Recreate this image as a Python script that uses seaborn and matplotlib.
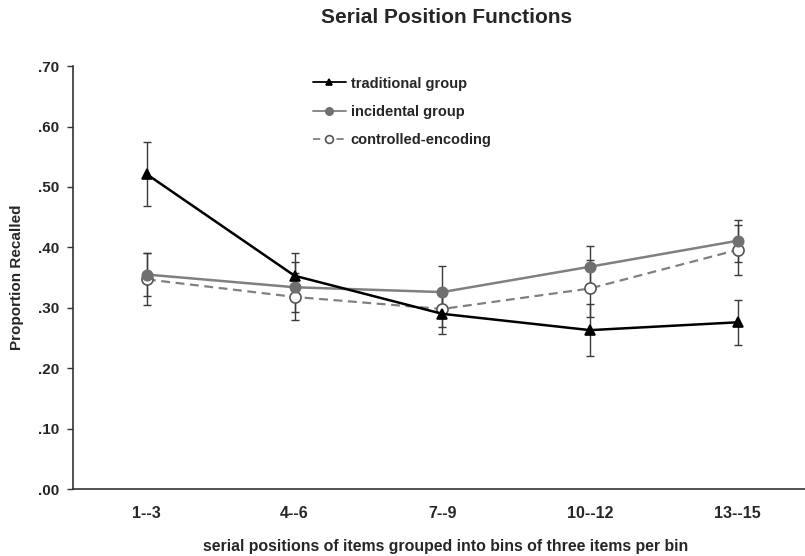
import matplotlib
matplotlib.use("Agg")
import matplotlib.pyplot as plt
import seaborn as sns
import pandas as pd

bins = ["1--3", "4--6", "7--9", "10--12", "13--15"]
traditional = [0.521, 0.353, 0.290, 0.263, 0.276]
traditional_err = [0.053, 0.037, 0.033, 0.043, 0.037]
incidental = [0.355, 0.334, 0.326, 0.368, 0.411]
incidental_err = [0.036, 0.041, 0.043, 0.035, 0.035]
controlled = [0.347, 0.318, 0.298, 0.332, 0.396]
controlled_err = [0.043, 0.039, 0.030, 0.047, 0.041]
y_ticks = [0.0, 0.1, 0.2, 0.3, 0.4, 0.5, 0.6, 0.7]
y_tick_labels = [".00", ".10", ".20", ".30", ".40", ".50", ".60", ".70"]

sns.set_style("white")
plt.rcParams["font.family"] = ["Liberation Sans", "DejaVu Sans"]
plt.rcParams["font.weight"] = "bold"

fig = plt.figure(figsize=(8.05, 5.56), dpi=100)
ax = fig.add_axes([0.0907, 0.1205, 0.912, 0.7605])

df = pd.DataFrame({
    "bin": bins * 3,
    "value": traditional + incidental + controlled,
    "err": traditional_err + incidental_err + controlled_err,
    "group": ["traditional group"] * 5 + ["incidental group"] * 5 + ["controlled-encoding"] * 5,
})

styles = {
    "traditional group": dict(color="black", marker="^", ls="-", mfc="black", mec="black", ms=7, lw=1.8),
    "incidental group": dict(color="#808080", marker="o", ls="-", mfc="#707070", mec="#707070", ms=7.5, lw=1.8),
    "controlled-encoding": dict(color="#808080", marker="o", ls=(0, (4, 2.5)), mfc="white", mec="#555555", ms=8, lw=1.6),
}

x_pos = list(range(len(bins)))
for name in ["incidental group", "controlled-encoding", "traditional group"]:
    sub = df[df["group"] == name]
    ax.errorbar(x_pos, sub["value"].values, yerr=sub["err"].values, fmt="none",
                ecolor="#3a3a3a", elinewidth=1.0, capsize=3, capthick=1.0, zorder=2)

for name in ["controlled-encoding", "incidental group", "traditional group"]:
    sub = df[df["group"] == name]
    st = styles[name]
    sns.lineplot(x=x_pos, y=sub["value"].values, ax=ax, color=st["color"],
                 marker=st["marker"], linestyle=st["ls"], markerfacecolor=st["mfc"],
                 markeredgecolor=st["mec"], markersize=st["ms"], linewidth=st["lw"],
                 markeredgewidth=1.2, label=name, zorder=3, errorbar=None)

ax.set_xlim(-0.5, 4.47)
ax.set_ylim(0, 0.70)
ax.set_yticks(y_ticks)
ax.set_yticklabels(y_tick_labels, fontsize=11, fontweight="bold")
ax.set_xticks(x_pos)
ax.set_xticklabels(bins, fontsize=11.5, fontweight="bold")
ax.tick_params(axis="x", length=0, pad=12)
ax.set_xticks([0.5, 1.5, 2.5, 3.5], minor=True)
ax.tick_params(axis="x", which="minor", length=4, direction="inout", color="#333333", width=1)
ax.tick_params(axis="y", length=4, direction="out", color="#333333", width=1, pad=6, left=True)

for s in ["top", "right"]:
    ax.spines[s].set_visible(False)
for s in ["left", "bottom"]:
    ax.spines[s].set_color("#333333")
    ax.spines[s].set_linewidth(1.2)

ax.set_ylabel("Proportion Recalled", fontsize=11, fontweight="bold", labelpad=10)
ax.set_xlabel("")
fig.text(0.554, 1 - 547 / 556, "serial positions of items grouped into bins of three items per bin",
         ha="center", va="center", fontsize=11.4, fontweight="bold")
fig.text(0.555, 1 - 17.5 / 556, "Serial Position Functions", ha="center", va="center",
         fontsize=15, fontweight="bold")

handles, labels = ax.get_legend_handles_labels()
order = [labels.index(n) for n in ["traditional group", "incidental group", "controlled-encoding"]]
leg = ax.legend([handles[i] for i in order], [labels[i] for i in order],
                loc="upper left", bbox_to_anchor=(0.372, 0.886), bbox_transform=fig.transFigure,
                frameon=False, handlelength=2.26, handletextpad=0.35,
                labelspacing=0.97, markerscale=0.7, prop={"weight": "bold", "size": 10.5})
for ln in leg.get_lines():
    ln.set_linewidth(1.3)

fig.savefig("out.png", dpi=100)
